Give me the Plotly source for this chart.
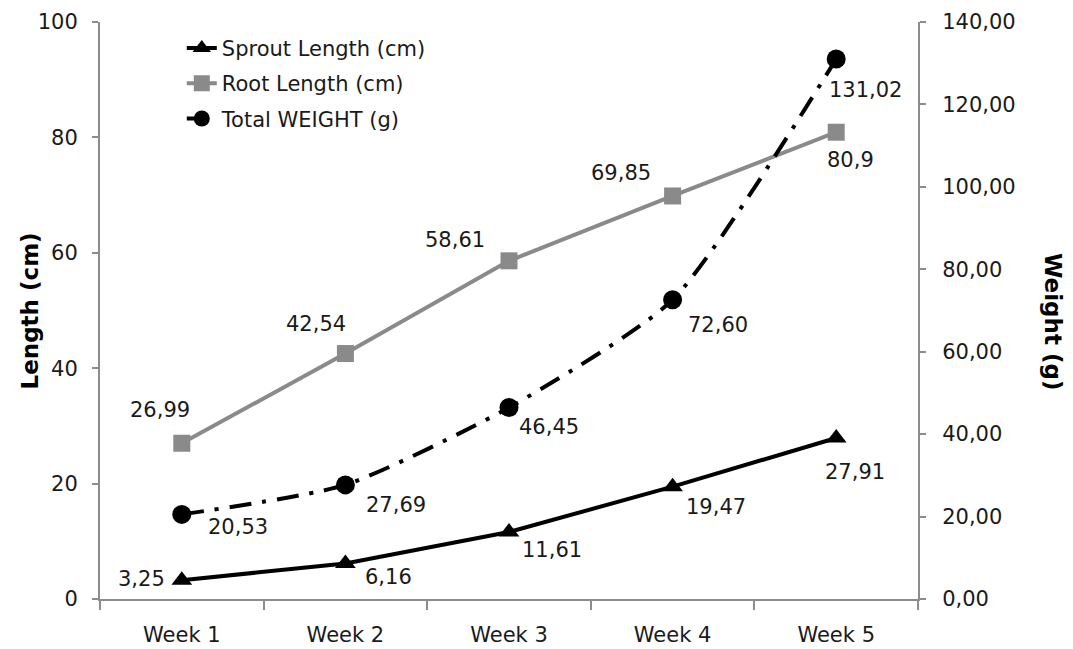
import plotly.graph_objects as go

weeks = ["Week 1", "Week 2", "Week 3", "Week 4", "Week 5"]
sprout = [3.25, 6.16, 11.61, 19.47, 27.91]
root = [26.99, 42.54, 58.61, 69.85, 80.9]
weight = [20.53, 27.69, 46.45, 72.60, 131.02]
sprout_labels = ["3,25", "6,16", "11,61", "19,47", "27,91"]
root_labels = ["26,99", "42,54", "58,61", "69,85", "80,9"]
weight_labels = ["20,53", "27,69", "46,45", "72,60", "131,02"]

# label offsets (px) relative to marker centre
sprout_off = [(-40, 1), (43, -14), (43, -18), (43, -20), (19, -34)]
root_off = [(-22, 33), (-29, 30), (-54, 21), (-52, 23), (14, -28)]
weight_off = [(56, -13), (51, -20), (40, -19), (45, -25), (29, -31)]

FONT = "DejaVu Sans"
TXT = "#1a1a1a"
GREY = "#8a8a8a"
AX = "#8c8c8c"
FS = 21

fig = go.Figure()
fig.add_trace(go.Scatter(
    x=weeks, y=sprout, name="Sprout Length (cm)", mode="lines+markers",
    line=dict(color="black", width=4),
    marker=dict(symbol="triangle-up", size=18, color="black"),
    legendgroup="a"))
fig.add_trace(go.Scatter(
    x=weeks, y=root, name="Root Length (cm)", mode="lines+markers",
    line=dict(color=GREY, width=4),
    marker=dict(symbol="square", size=17, color=GREY),
    legendgroup="b"))
fig.add_trace(go.Scatter(
    x=weeks, y=weight, name="Total WEIGHT (g)", mode="lines+markers", yaxis="y2",
    line=dict(color="black", width=4, dash="22px,11px,4px,11px", shape="spline", smoothing=0.6),
    marker=dict(symbol="circle", size=19, color="black"),
    legendgroup="c"))

annotations = []
for vals, labs, offs, yref in [(sprout, sprout_labels, sprout_off, "y"),
                                (root, root_labels, root_off, "y"),
                                (weight, weight_labels, weight_off, "y2")]:
    for w, v, t, (dx, dy) in zip(weeks, vals, labs, offs):
        annotations.append(dict(x=w, y=v, xref="x", yref=yref, text=t, showarrow=False,
                                xanchor="center", yanchor="middle", xshift=dx, yshift=dy,
                                font=dict(family=FONT, size=FS, color=TXT)))

annotations.append(dict(x=-0.0856, y=0.5, xref="paper", yref="paper", text="<b>Length (cm)</b>",
                        textangle=-90, showarrow=False, xanchor="center", yanchor="middle",
                        font=dict(family=FONT, size=23, color="black")))
annotations.append(dict(x=1.165, y=0.48, xref="paper", yref="paper", text="<b>Weight (g)</b>",
                        textangle=90, showarrow=False, xanchor="center", yanchor="middle",
                        font=dict(family=FONT, size=23, color="black")))

fig.update_layout(
    width=1073, height=649,
    margin=dict(l=92, r=163, t=14, b=58, autoexpand=False),
    paper_bgcolor="white", plot_bgcolor="white",
    separators=",.",
    font=dict(family=FONT, size=FS, color=TXT),
    showlegend=True,
    legend=dict(x=0.1, y=0.99, xanchor="left", yanchor="top", bgcolor="rgba(0,0,0,0)",
                font=dict(family=FONT, size=FS, color=TXT), tracegroupgap=5,
                itemwidth=30),
    annotations=annotations,
    xaxis=dict(type="category", range=[-0.5, 4.5], showgrid=False, zeroline=False,
               showline=True, automargin=False,
               linecolor=AX, linewidth=2, ticks="outside", tickson="boundaries",
               ticklen=9, tickcolor=AX, tickwidth=2,
               tickfont=dict(family=FONT, size=FS, color=TXT), ticklabelstandoff=16),
    yaxis=dict(range=[0, 100], dtick=20, showgrid=False, zeroline=False, showline=True,
               automargin=False,
               linecolor=AX, linewidth=2, ticks="outside", ticklen=6, tickcolor=AX, tickwidth=2,
               tickfont=dict(family=FONT, size=FS, color=TXT), ticklabelstandoff=10),
    yaxis2=dict(range=[0, 140], dtick=20, overlaying="y", side="right", showgrid=False,
                automargin=False,
                zeroline=False, showline=True, linecolor=AX, linewidth=2, ticks="outside",
                ticklen=6, tickcolor=AX, tickwidth=2, tickformat=".2f",
                tickfont=dict(family=FONT, size=FS, color=TXT), ticklabelstandoff=12),
)

fig.write_html("out.html")
